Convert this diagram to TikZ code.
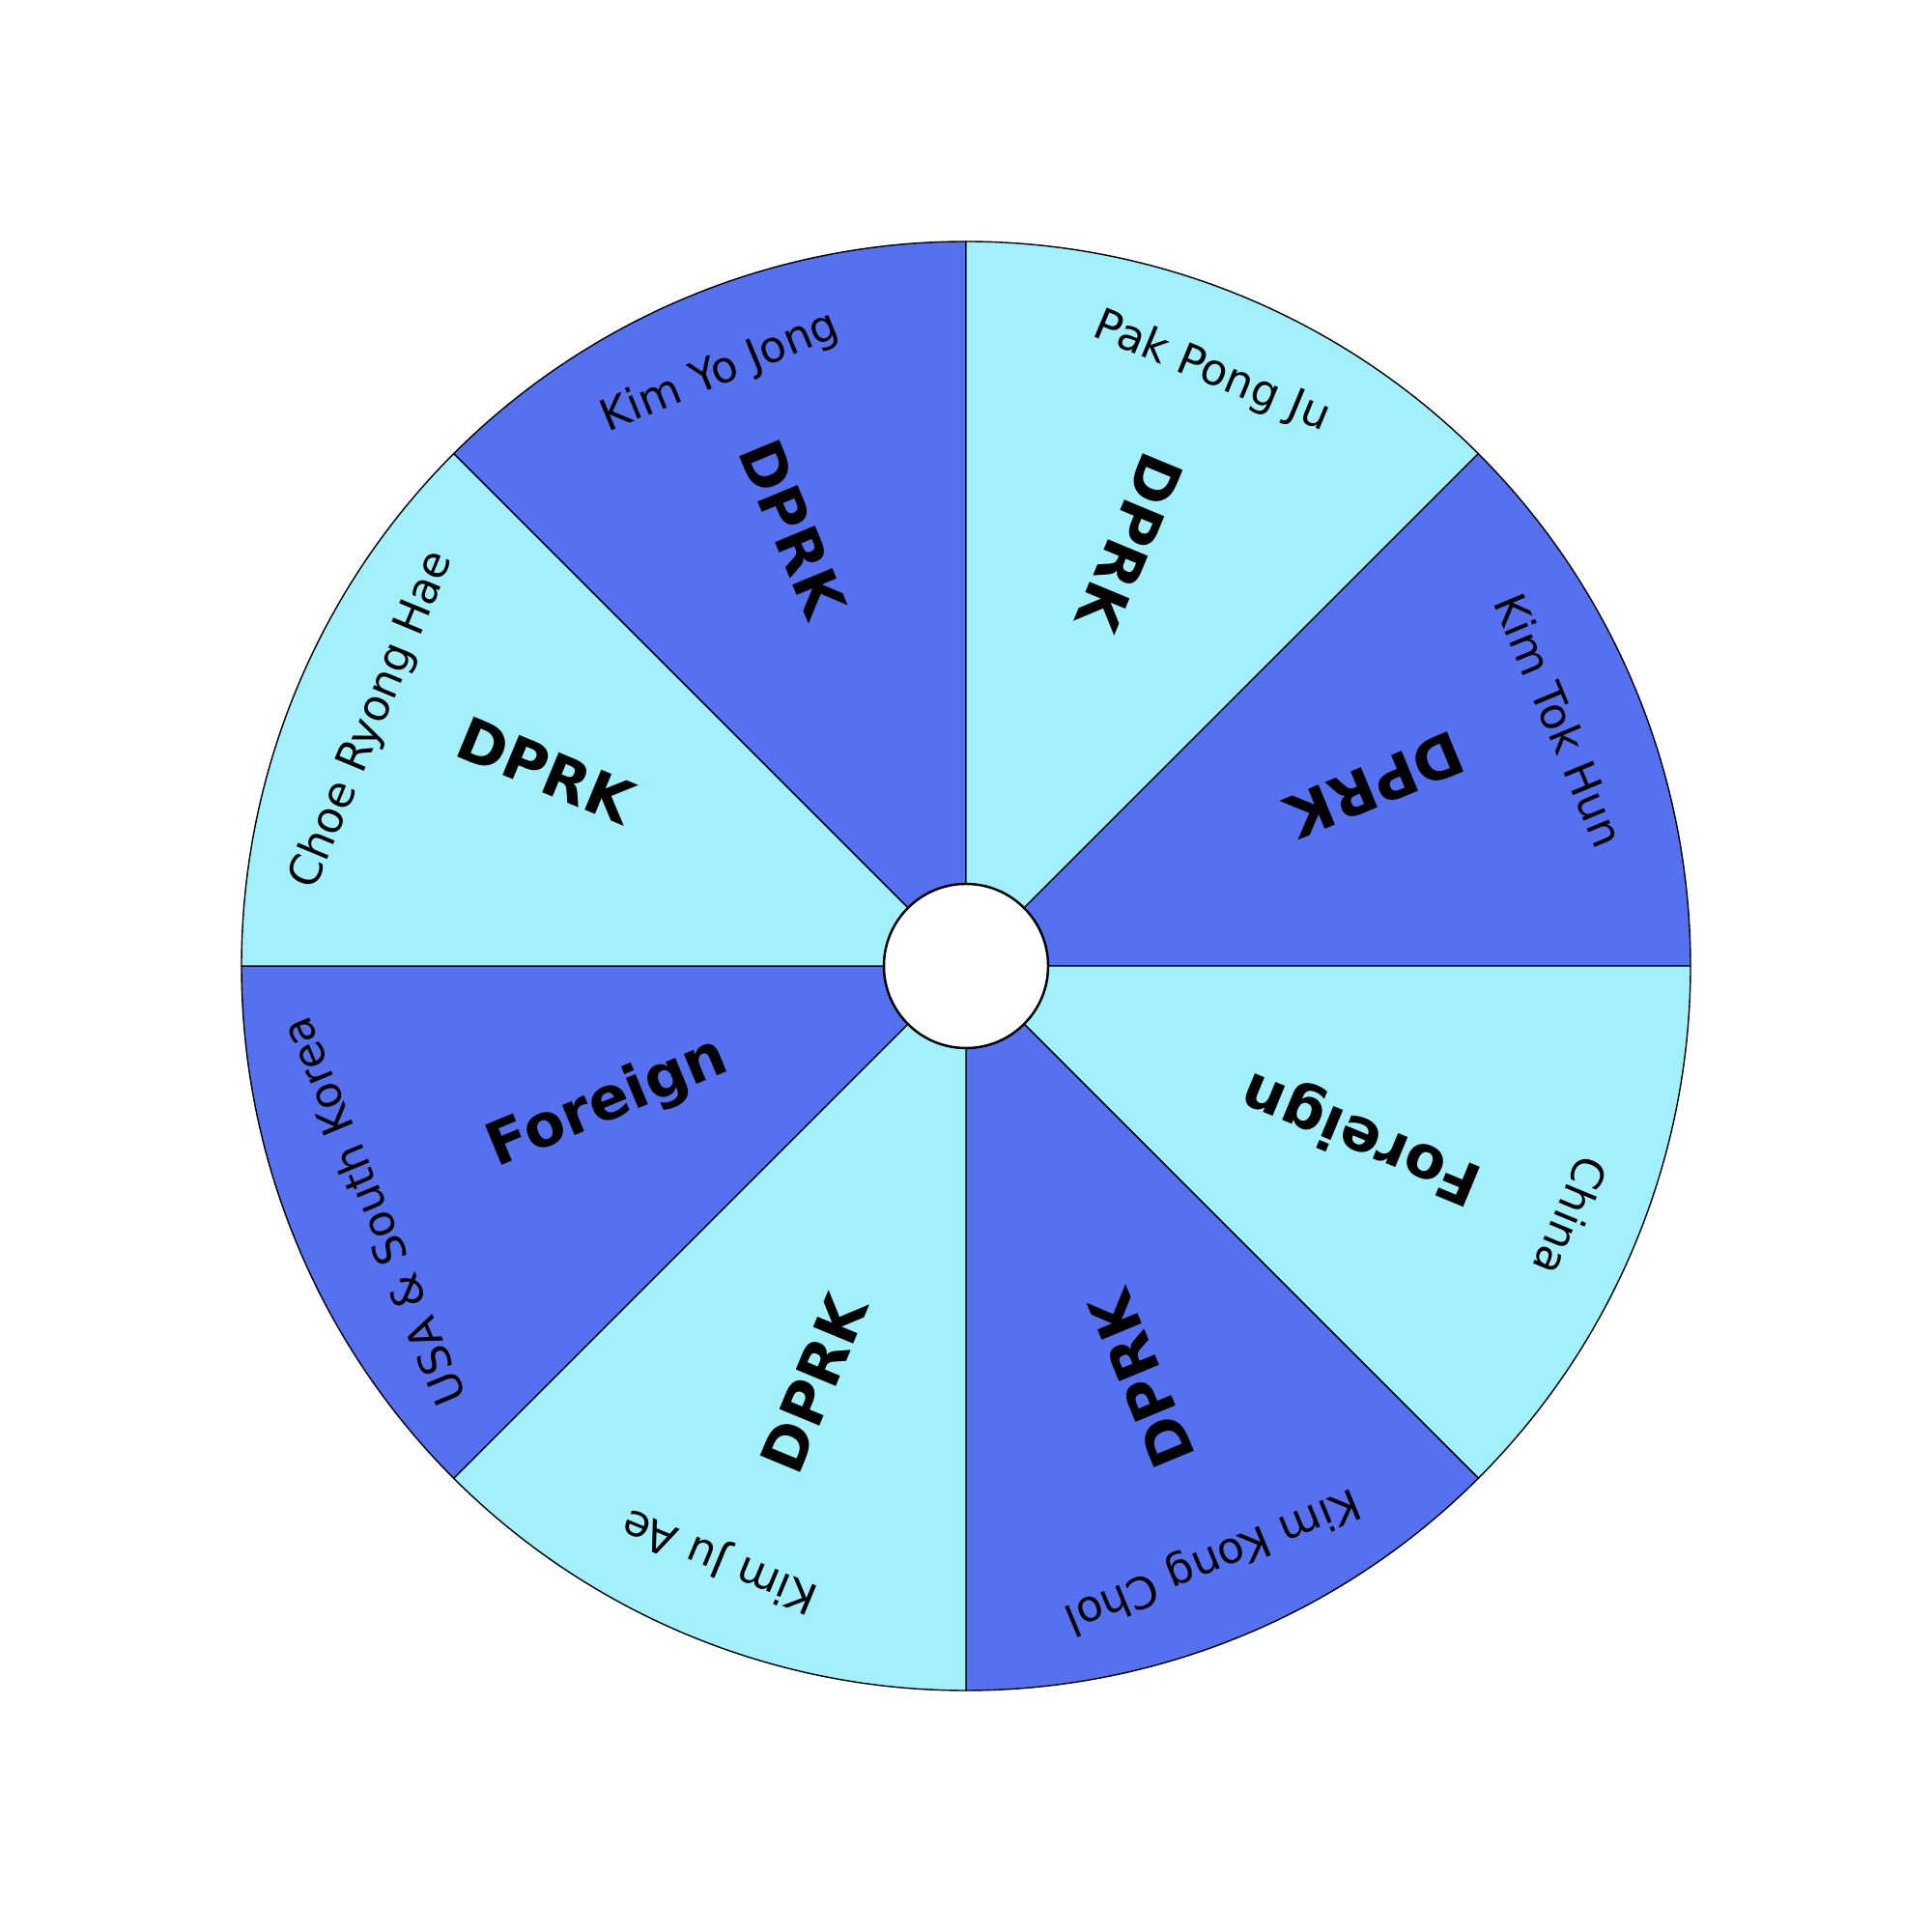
\documentclass[tikz,border=0pt]{standalone}
\usepackage{fontspec}
\setmainfont{DejaVu Sans}
\definecolor{wdark}{HTML}{5571F0}
\definecolor{wlight}{HTML}{A1F0FC}
\begin{document}
\begin{tikzpicture}[x=1cm,y=1cm,
  wedge/.style={draw=black,line width=0.4pt},
  namelbl/.style={inner sep=0pt,font=\fontsize{12.8}{15}\selectfont},
  catlbl/.style={inner sep=0pt,font=\fontsize{17.5}{21}\selectfont\bfseries}]
\useasboundingbox[fill=white] (0,0) rectangle (20,20);
\coordinate (c) at (10,10);
% wedges
\foreach \a/\col in {90/wdark,45/wlight,0/wdark,-45/wlight,-90/wdark,-135/wlight,180/wdark,135/wlight}{
  \filldraw[wedge,fill=\col] (c) -- ++(\a:7.5) arc[start angle=\a, delta angle=45, radius=7.5] -- cycle;
}
% hub
\node[circle,draw=black,fill=white,line width=0.7pt,minimum size=1.7cm,inner sep=0pt] (hub) at (c) {};
% names
\path (c) ++(112.5:6.65) node[namelbl,rotate=22.5] (n1) {Kim Yo Jong};
\path (c) ++(67.5:6.65) node[namelbl,rotate=-22.5] (n2) {Pak Pong Ju};
\path (c) ++(22.5:6.65) node[namelbl,rotate=-67.5] (n3) {Kim Tok Hun};
\path (c) ++(-22.5:6.78) node[namelbl,rotate=-112.5] (n4) {China};
\path (c) ++(-67.5:6.65) node[namelbl,rotate=-157.5] (n5) {Kim Kong Chol};
\path (c) ++(-112.5:6.65) node[namelbl,rotate=157.5] (n6) {Kim Ju Ae};
\path (c) ++(-157.5:6.65) node[namelbl,rotate=112.5] (n7) {USA \& South Korea};
\path (c) ++(157.5:6.65) node[namelbl,rotate=67.5] (n8) {Choe Ryong Hae};
% categories
\path (c) ++(111.6:4.87) node[catlbl,rotate=-67.5] (c1) {DPRK};
\path (c) ++(68.8:4.70) node[catlbl,rotate=247.5] (c2) {DPRK};
\path (c) ++(23.8:4.63) node[catlbl,rotate=202.5] (c3) {DPRK};
\path (c) ++(-23.2:4.46) node[catlbl,rotate=157.5] (c4) {Foreign};
\path (c) ++(-67:4.65) node[catlbl,rotate=112.5] (c5) {DPRK};
\path (c) ++(-110:4.60) node[catlbl,rotate=67.5] (c6) {DPRK};
\path (c) ++(-158.9:3.97) node[catlbl,rotate=22.5] (c7) {Foreign};
\path (c) ++(155:4.80) node[catlbl,rotate=-22.5] (c8) {DPRK};
\end{tikzpicture}
\end{document}
